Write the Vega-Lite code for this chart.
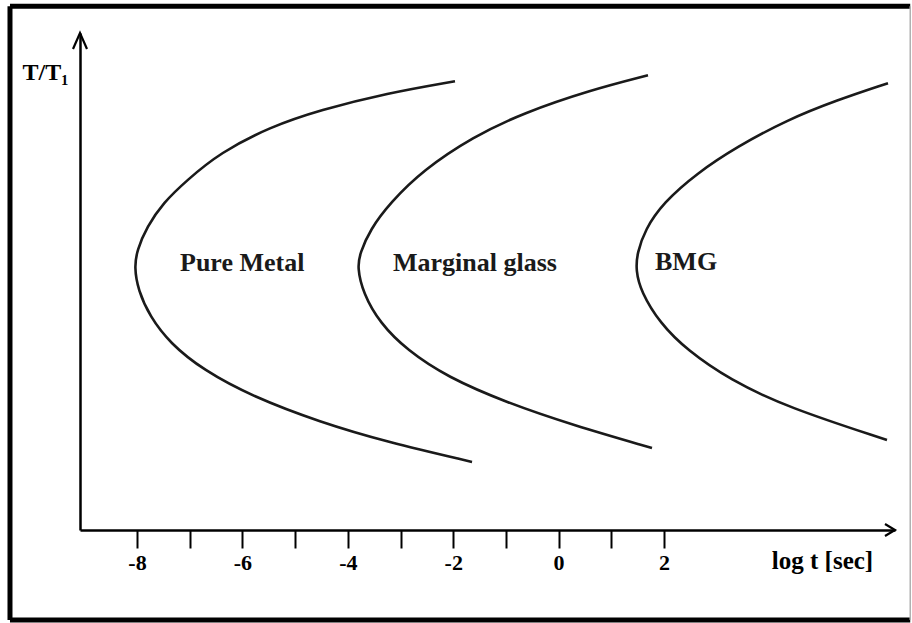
{
  "$schema": "https://vega.github.io/schema/vega-lite/v6.json",
  "width": 815,
  "height": 497,
  "autosize": {"type": "none"},
  "padding": {"left": 80, "top": 33, "right": 17, "bottom": 93},
  "background": "white",
  "config": {"view": {"stroke": null}},
  "datasets": {
    "curves": [
      {"curve": "Pure Metal", "i": 0, "logt": -1.966, "tt": 0.903},
      {"curve": "Pure Metal", "i": 1, "logt": -3.256, "tt": 0.879},
      {"curve": "Pure Metal", "i": 2, "logt": -4.528, "tt": 0.845},
      {"curve": "Pure Metal", "i": 3, "logt": -5.476, "tt": 0.811},
      {"curve": "Pure Metal", "i": 4, "logt": -6.425, "tt": 0.759},
      {"curve": "Pure Metal", "i": 5, "logt": -7.051, "tt": 0.704},
      {"curve": "Pure Metal", "i": 6, "logt": -7.507, "tt": 0.658},
      {"curve": "Pure Metal", "i": 7, "logt": -7.81, "tt": 0.61},
      {"curve": "Pure Metal", "i": 8, "logt": -8.0, "tt": 0.563},
      {"curve": "Pure Metal", "i": 9, "logt": -8.05, "tt": 0.529},
      {"curve": "Pure Metal", "i": 10, "logt": -7.981, "tt": 0.483},
      {"curve": "Pure Metal", "i": 11, "logt": -7.753, "tt": 0.429},
      {"curve": "Pure Metal", "i": 12, "logt": -7.374, "tt": 0.376},
      {"curve": "Pure Metal", "i": 13, "logt": -6.748, "tt": 0.322},
      {"curve": "Pure Metal", "i": 14, "logt": -5.799, "tt": 0.268},
      {"curve": "Pure Metal", "i": 15, "logt": -4.528, "tt": 0.217},
      {"curve": "Pure Metal", "i": 16, "logt": -3.256, "tt": 0.177},
      {"curve": "Pure Metal", "i": 17, "logt": -1.643, "tt": 0.137},

      {"curve": "Marginal glass", "i": 0, "logt": 1.696, "tt": 0.915},
      {"curve": "Marginal glass", "i": 1, "logt": 0.596, "tt": 0.885},
      {"curve": "Marginal glass", "i": 2, "logt": -0.676, "tt": 0.839},
      {"curve": "Marginal glass", "i": 3, "logt": -1.624, "tt": 0.791},
      {"curve": "Marginal glass", "i": 4, "logt": -2.573, "tt": 0.724},
      {"curve": "Marginal glass", "i": 5, "logt": -3.199, "tt": 0.658},
      {"curve": "Marginal glass", "i": 6, "logt": -3.579, "tt": 0.604},
      {"curve": "Marginal glass", "i": 7, "logt": -3.768, "tt": 0.557},
      {"curve": "Marginal glass", "i": 8, "logt": -3.82, "tt": 0.529},
      {"curve": "Marginal glass", "i": 9, "logt": -3.712, "tt": 0.477},
      {"curve": "Marginal glass", "i": 10, "logt": -3.389, "tt": 0.416},
      {"curve": "Marginal glass", "i": 11, "logt": -2.877, "tt": 0.362},
      {"curve": "Marginal glass", "i": 12, "logt": -2.118, "tt": 0.308},
      {"curve": "Marginal glass", "i": 13, "logt": -0.979, "tt": 0.256},
      {"curve": "Marginal glass", "i": 14, "logt": 0.273, "tt": 0.211},
      {"curve": "Marginal glass", "i": 15, "logt": 1.772, "tt": 0.165},

      {"curve": "BMG", "i": 0, "logt": 6.25, "tt": 0.899},
      {"curve": "BMG", "i": 1, "logt": 5.283, "tt": 0.865},
      {"curve": "BMG", "i": 2, "logt": 4.334, "tt": 0.825},
      {"curve": "BMG", "i": 3, "logt": 3.385, "tt": 0.771},
      {"curve": "BMG", "i": 4, "logt": 2.626, "tt": 0.718},
      {"curve": "BMG", "i": 5, "logt": 1.981, "tt": 0.658},
      {"curve": "BMG", "i": 6, "logt": 1.639, "tt": 0.604},
      {"curve": "BMG", "i": 7, "logt": 1.49, "tt": 0.557},
      {"curve": "BMG", "i": 8, "logt": 1.465, "tt": 0.523},
      {"curve": "BMG", "i": 9, "logt": 1.56, "tt": 0.48},
      {"curve": "BMG", "i": 10, "logt": 1.924, "tt": 0.416},
      {"curve": "BMG", "i": 11, "logt": 2.436, "tt": 0.362},
      {"curve": "BMG", "i": 12, "logt": 3.252, "tt": 0.302},
      {"curve": "BMG", "i": 13, "logt": 4.334, "tt": 0.247},
      {"curve": "BMG", "i": 14, "logt": 6.231, "tt": 0.181}
    ],
    "regions": [
      {"label": "Pure Metal", "logt": -7.184, "tt": 0.537},
      {"label": "Marginal  glass", "logt": -3.143, "tt": 0.537},
      {"label": "BMG", "logt": 1.829, "tt": 0.54}
    ],
    "frame": [
      {"side": "left", "x": -10.41, "x2": -10.41, "y": 1.054, "y2": -0.181},
      {"side": "top", "x": -10.41, "x2": 6.672, "y": 1.054, "y2": 1.054},
      {"side": "bottom", "x": -10.41, "x2": 6.672, "y": -0.181, "y2": -0.181}
    ],
    "frameRight": [
      {"side": "right", "x": 6.672, "x2": 6.672, "y": 1.054, "y2": -0.181}
    ],
    "arrows": [
      {"dir": "right", "logt": 6.383, "tt": 0},
      {"dir": "up", "logt": -9.0816, "tt": 1}
    ]
  },
  "layer": [
    {
      "data": {"name": "frame"},
      "mark": {"type": "rule", "color": "black", "strokeWidth": 5, "clip": false},
      "encoding": {
        "x": {"field": "x", "type": "quantitative", "scale": {"domain": [-9.0816, 6.383], "nice": false, "zero": false}},
        "x2": {"field": "x2"},
        "y": {"field": "y", "type": "quantitative", "scale": {"domain": [0, 1], "nice": false, "zero": false}},
        "y2": {"field": "y2"}
      }
    },
    {
      "data": {"name": "frameRight"},
      "mark": {"type": "rule", "color": "#b0b0b0", "strokeWidth": 1.5, "clip": false},
      "encoding": {
        "x": {"field": "x", "type": "quantitative"},
        "x2": {"field": "x2"},
        "y": {"field": "y", "type": "quantitative"},
        "y2": {"field": "y2"}
      }
    },
    {
      "data": {"name": "curves"},
      "mark": {"type": "line", "interpolate": "basis", "color": "#1a1a1a", "strokeWidth": 2.6},
      "encoding": {
        "x": {
          "field": "logt",
          "type": "quantitative",
          "scale": {"domain": [-9.0816, 6.383], "nice": false, "zero": false},
          "axis": {
            "values": [-8, -7, -6, -5, -4, -3, -2, -1, 0, 1, 2],
            "labelExpr": "datum.value % 2 === 0 ? '' + datum.value : ''",
            "grid": false,
            "domainColor": "black",
            "domainWidth": 2.5,
            "tickColor": "black",
            "tickWidth": 2,
            "tickSize": 18,
            "labelFont": "Liberation Serif",
            "labelFontWeight": "bold",
            "labelFontSize": 22,
            "labelColor": "black",
            "labelPadding": 4,
            "labelFlush": false,
            "labelOverlap": false,
            "title": "log t [sec]",
            "titleFont": "Liberation Serif",
            "titleFontWeight": "bold",
            "titleFontSize": 25,
            "titleColor": "black",
            "titleX": 742,
            "titleY": 30,
            "titleAlign": "center",
            "titleBaseline": "middle"
          }
        },
        "y": {
          "field": "tt",
          "type": "quantitative",
          "scale": {"domain": [0, 1], "nice": false, "zero": false},
          "axis": {
            "grid": false,
            "ticks": false,
            "labels": false,
            "domainColor": "black",
            "domainWidth": 2.5,
            "title": "T/T₁",
            "titleAngle": 0,
            "titleX": -35,
            "titleY": 39,
            "titleAlign": "center",
            "titleBaseline": "middle",
            "titleFont": "Liberation Serif",
            "titleFontWeight": "bold",
            "titleFontSize": 24,
            "titleColor": "black"
          }
        },
        "detail": {"field": "curve", "type": "nominal"},
        "order": {"field": "i", "type": "quantitative"}
      }
    },
    {
      "data": {"name": "regions"},
      "mark": {"type": "text", "align": "left", "baseline": "middle", "font": "Liberation Serif", "fontWeight": "bold", "fontSize": 26, "color": "#1a1a1a"},
      "encoding": {
        "x": {"field": "logt", "type": "quantitative"},
        "y": {"field": "tt", "type": "quantitative"},
        "text": {"field": "label"}
      }
    },
    {
      "data": {"name": "arrows"},
      "mark": {"type": "point", "filled": false, "stroke": "black", "strokeWidth": 2.2, "size": 400, "opacity": 1, "clip": false},
      "encoding": {
        "x": {"field": "logt", "type": "quantitative"},
        "y": {"field": "tt", "type": "quantitative"},
        "shape": {
          "field": "dir",
          "type": "nominal",
          "scale": {"domain": ["right", "up"], "range": ["M-1,-0.6L0,0L-1,0.6", "M-0.7,1.6L0,0L0.7,1.6"]},
          "legend": null
        }
      }
    }
  ]
}
